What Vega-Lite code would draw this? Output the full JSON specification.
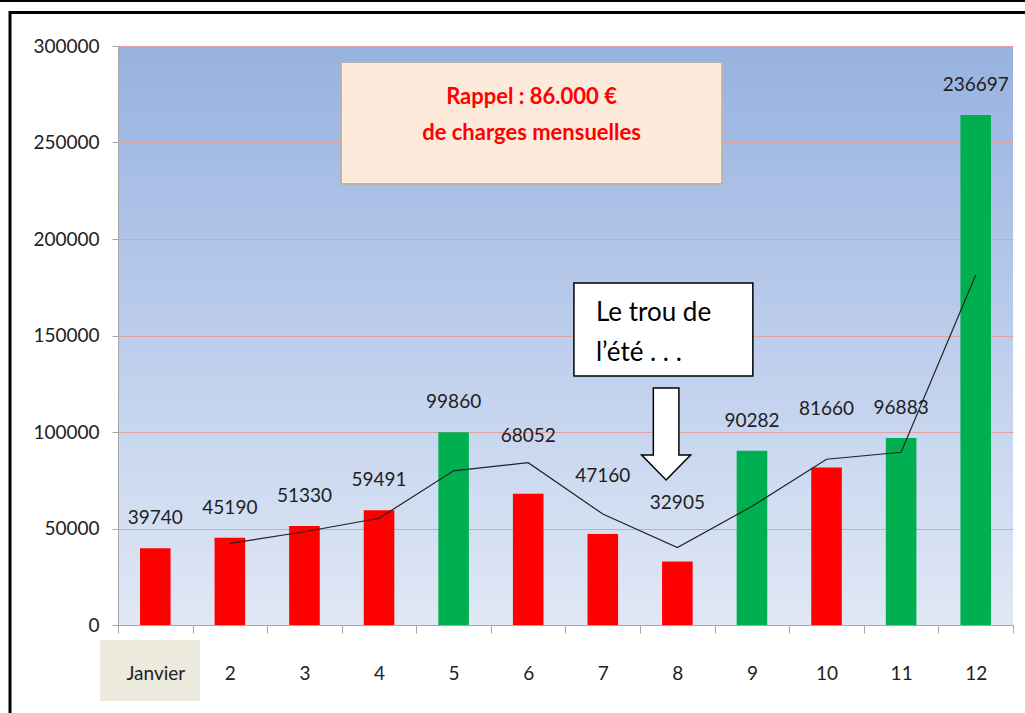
{
  "$schema": "https://vega.github.io/schema/vega-lite/v6.json",
  "width": 895,
  "height": 579,
  "autosize": "none",
  "padding": {"left": 118, "top": 46, "right": 12, "bottom": 88},
  "background": "white",
  "config": {
    "font": "Lato",
    "view": {
      "stroke": null,
      "fill": {"gradient": "linear", "x1": 0, "y1": 0, "x2": 0, "y2": 1, "stops": [{"offset": 0, "color": "#97b2e0"}, {"offset": 0.5, "color": "#bccdec"}, {"offset": 1, "color": "#e0e8f5"}]}
    },
    "axis": {"labelFont": "Lato", "labelFontSize": 19, "labelColor": "#222222", "domainColor": "#a6a6a6", "tickColor": "#a6a6a6", "title": null}
  },
  "datasets": {
    "mois": [
      {"mois": "Janvier", "valeur": 39740, "etiquette": "39740", "moyenne": null},
      {"mois": "2", "valeur": 45190, "etiquette": "45190", "moyenne": 42300},
      {"mois": "3", "valeur": 51330, "etiquette": "51330", "moyenne": 48300},
      {"mois": "4", "valeur": 59491, "etiquette": "59491", "moyenne": 55300},
      {"mois": "5", "valeur": 99860, "etiquette": "99860", "moyenne": 79900},
      {"mois": "6", "valeur": 68052, "etiquette": "68052", "moyenne": 84100},
      {"mois": "7", "valeur": 47160, "etiquette": "47160", "moyenne": 57500},
      {"mois": "8", "valeur": 32905, "etiquette": "32905", "moyenne": 40100},
      {"mois": "9", "valeur": 90282, "etiquette": "90282", "moyenne": 61500},
      {"mois": "10", "valeur": 81660, "etiquette": "81660", "moyenne": 85900},
      {"mois": "11", "valeur": 96883, "etiquette": "96883", "moyenne": 89500},
      {"mois": "12", "valeur": 264200, "etiquette": "236697", "moyenne": 181300}
    ],
    "note": [{"texte": "annotation"}]
  },
  "resolve": {"scale": {"x": "independent"}, "axis": {"x": "independent"}},
  "layer": [
    {
      "data": {"name": "mois"},
      "encoding": {
        "x": {"field": "mois", "type": "nominal", "sort": null,
          "scale": {"paddingInner": 0, "paddingOuter": 0},
          "axis": {"labelAngle": 0, "ticks": true, "tickBand": "extent", "tickSize": 8, "domain": true, "labelPadding": 31, "zindex": 1}}
      },
      "layer": [
        {
          "mark": {"type": "bar", "width": {"band": 0.41}},
          "encoding": {
            "y": {"field": "valeur", "type": "quantitative",
              "scale": {"domain": [0, 300000], "nice": false, "zero": true},
              "axis": {"values": [0, 50000, 100000, 150000, 200000, 250000, 300000], "format": "d", "grid": true, "gridColor": "#e0a2a2", "gridWidth": 1.2, "tickSize": 6, "labelPadding": 13, "zindex": 0}},
            "color": {"condition": {"test": "datum.valeur > 86000", "value": "#00b050"}, "value": "#ff0000"}
          }
        },
        {
          "mark": {"type": "line", "color": "#222222", "strokeWidth": 1.2},
          "encoding": {"y": {"field": "moyenne", "type": "quantitative"}}
        },
        {
          "transform": [{"filter": {"not": {"field": "mois", "oneOf": ["6", "7", "8", "10"]}}}],
          "mark": {"type": "text", "fontSize": 19, "color": "#1e1e1e", "baseline": "middle", "dy": -30},
          "encoding": {"y": {"field": "valeur", "type": "quantitative"}, "text": {"field": "etiquette"}}
        },
        {
          "transform": [{"filter": {"field": "mois", "oneOf": ["6", "7", "8", "10"]}}],
          "mark": {"type": "text", "fontSize": 19, "color": "#1e1e1e", "baseline": "middle", "dy": -58},
          "encoding": {"y": {"field": "valeur", "type": "quantitative"}, "text": {"field": "etiquette"}}
        }
      ]
    },
    {
      "data": {"name": "note"},
      "layer": [
        {
          "mark": {"type": "rect", "color": "#ece9dd"},
          "encoding": {
            "x": {"datum": -0.241, "type": "quantitative", "scale": {"domain": [0, 12], "nice": false, "zero": false}, "axis": null},
            "x2": {"datum": 1.099},
            "y": {"datum": -7800, "type": "quantitative"},
            "y2": {"datum": -39400}
          }
        },
        {
          "mark": {"type": "rect", "fill": "#fdeadb", "stroke": "#b5b5b5", "strokeWidth": 2},
          "encoding": {
            "x": {"datum": 2.99, "type": "quantitative", "axis": null},
            "x2": {"datum": 8.1},
            "y": {"datum": 291700, "type": "quantitative"},
            "y2": {"datum": 228500}
          }
        },
        {
          "mark": {"type": "text", "text": "Rappel : 86.000 €", "fontSize": 22, "fontWeight": "bold", "color": "#ff0000", "baseline": "middle", "align": "center"},
          "encoding": {
            "x": {"datum": 5.545, "type": "quantitative", "axis": null},
            "y": {"datum": 273700, "type": "quantitative"}
          }
        },
        {
          "mark": {"type": "text", "text": "de charges mensuelles", "fontSize": 22, "fontWeight": "bold", "color": "#ff0000", "baseline": "middle", "align": "center"},
          "encoding": {
            "x": {"datum": 5.545, "type": "quantitative", "axis": null},
            "y": {"datum": 254900, "type": "quantitative"}
          }
        },
        {
          "mark": {"type": "rect", "fill": "#ffffff", "stroke": "#000000", "strokeWidth": 1.5},
          "encoding": {
            "x": {"datum": 6.113, "type": "quantitative", "axis": null},
            "x2": {"datum": 8.512},
            "y": {"datum": 177200, "type": "quantitative"},
            "y2": {"datum": 129000}
          }
        },
        {
          "mark": {"type": "text", "text": "Le trou de", "fontSize": 26, "color": "#000000", "baseline": "middle", "align": "left"},
          "encoding": {
            "x": {"datum": 6.408, "type": "quantitative", "axis": null},
            "y": {"datum": 161700, "type": "quantitative"}
          }
        },
        {
          "mark": {"type": "text", "text": "l’été . . .", "fontSize": 26, "color": "#000000", "baseline": "middle", "align": "left"},
          "encoding": {
            "x": {"datum": 6.408, "type": "quantitative", "axis": null},
            "y": {"datum": 141000, "type": "quantitative"}
          }
        },
        {
          "mark": {"type": "point", "shape": "M-0.278,-1L0.278,-1L0.278,0.457L0.533,0.457L0,1L-0.533,0.457L-0.278,0.457Z", "size": 8464, "filled": true, "fill": "#ffffff", "stroke": "#000000", "strokeWidth": 1.5, "opacity": 1},
          "encoding": {
            "x": {"datum": 7.349, "type": "quantitative", "axis": null},
            "y": {"datum": 99000, "type": "quantitative"}
          }
        },
        {
          "mark": {"type": "rule", "color": "#000000", "strokeWidth": 3},
          "encoding": {
            "x": {"datum": -2, "type": "quantitative", "axis": null},
            "x2": {"datum": 13},
            "y": {"datum": 323600, "type": "quantitative"}
          }
        },
        {
          "mark": {"type": "rule", "color": "#000000", "strokeWidth": 3},
          "encoding": {
            "x": {"datum": -1.448, "type": "quantitative", "axis": null},
            "x2": {"datum": 13},
            "y": {"datum": 317400, "type": "quantitative"}
          }
        },
        {
          "mark": {"type": "rule", "color": "#000000", "strokeWidth": 3},
          "encoding": {
            "x": {"datum": -1.448, "type": "quantitative", "axis": null},
            "y": {"datum": 318100, "type": "quantitative"},
            "y2": {"datum": -60000}
          }
        }
      ]
    }
  ]
}
